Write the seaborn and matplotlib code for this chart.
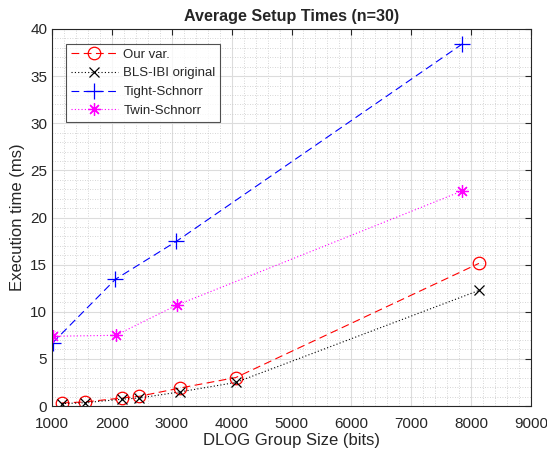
#!/usr/bin/env python3
"""
Average setup times vs DLOG group size (MATLAB-style line chart)
"""

import numpy as np
import matplotlib
matplotlib.use('Agg')
import matplotlib.pyplot as plt
import seaborn as sns
from matplotlib.ticker import MultipleLocator

# Data
our_x = [1160, 1550, 2170, 2460, 3140, 4070, 8130]
our_y = [0.32, 0.43, 0.85, 1.03, 1.91, 3.02, 15.13]
bls_x = [1160, 1550, 2170, 2460, 3140, 4070, 8130]
bls_y = [0.25, 0.35, 0.72, 0.85, 1.50, 2.50, 12.26]
tight_x = [1010, 2060, 3075, 7850]
tight_y = [6.7, 13.45, 17.46, 38.4]
twin_x = [1025, 2065, 3083, 7845]
twin_y = [7.4, 7.5, 10.7, 22.8]

sns.set_style('white')
plt.rcParams['font.family'] = ['Liberation Sans', 'DejaVu Sans']

fig = plt.figure(figsize=(5.47, 4.54), dpi=100)
ax = fig.add_axes([52 / 547, 48 / 454, 479 / 547, 377 / 454])

# MATLAB-style asterisk: plus and cross together
asterisk = (8, 2, 0)

series = [
    (our_x, our_y, 'Our var.', '#ff0000', (0, (7, 4)), 'o', 9),
    (bls_x, bls_y, 'BLS-IBI original', '#000000', (0, (1, 2)), 'x', 7),
    (tight_x, tight_y, 'Tight-Schnorr', '#0000ff', (0, (7, 4)), '+', 11),
    (twin_x, twin_y, 'Twin-Schnorr', '#ff00ff', (0, (1, 2)), asterisk, 9),
]
for xs, ys, label, color, ls, marker, ms in series:
    sns.lineplot(x=xs, y=ys, ax=ax, color=color, linestyle=ls, linewidth=0.8,
                 marker=marker, markersize=ms, markerfacecolor='none',
                 markeredgecolor=color, markeredgewidth=0.9, label=label,
                 sort=False)

ax.set_xlim(1000, 9000)
ax.set_ylim(0, 40)
ax.xaxis.set_major_locator(MultipleLocator(1000))
ax.xaxis.set_minor_locator(MultipleLocator(200))
ax.yaxis.set_major_locator(MultipleLocator(5))
ax.yaxis.set_minor_locator(MultipleLocator(1))

ax.grid(True, which='major', color='#dcdcdc', linewidth=0.8)
ax.grid(True, which='minor', color='#c8c8c8', linewidth=0.6, linestyle=(0, (1, 2)))
ax.set_axisbelow(True)

for side in ['top', 'right', 'bottom', 'left']:
    ax.spines[side].set_visible(True)
    ax.spines[side].set_color('#262626')
    ax.spines[side].set_linewidth(0.8)
ax.tick_params(which='major', direction='in', length=4, width=0.8,
               top=True, right=True, labelsize=11, colors='#262626')
ax.tick_params(axis='x', which='major', pad=8)
ax.tick_params(which='minor', length=0)

ax.set_xlabel('DLOG Group Size (bits)', fontsize=12, color='#262626', labelpad=1)
ax.set_ylabel('Execution time (ms)', fontsize=12, color='#262626')
ax.set_title('Average Setup Times (n=30)', fontsize=11.6, fontweight='bold', pad=6)

leg = ax.legend(loc='upper left', bbox_to_anchor=(0.029, 0.961), borderaxespad=0,
                fontsize=9.5, frameon=True, fancybox=False, edgecolor='#262626',
                handlelength=3.6, borderpad=0.35, labelspacing=0.5,
                handletextpad=0.4)
leg.get_frame().set_linewidth(0.8)

plt.savefig('out.png', dpi=100)
plt.close()
